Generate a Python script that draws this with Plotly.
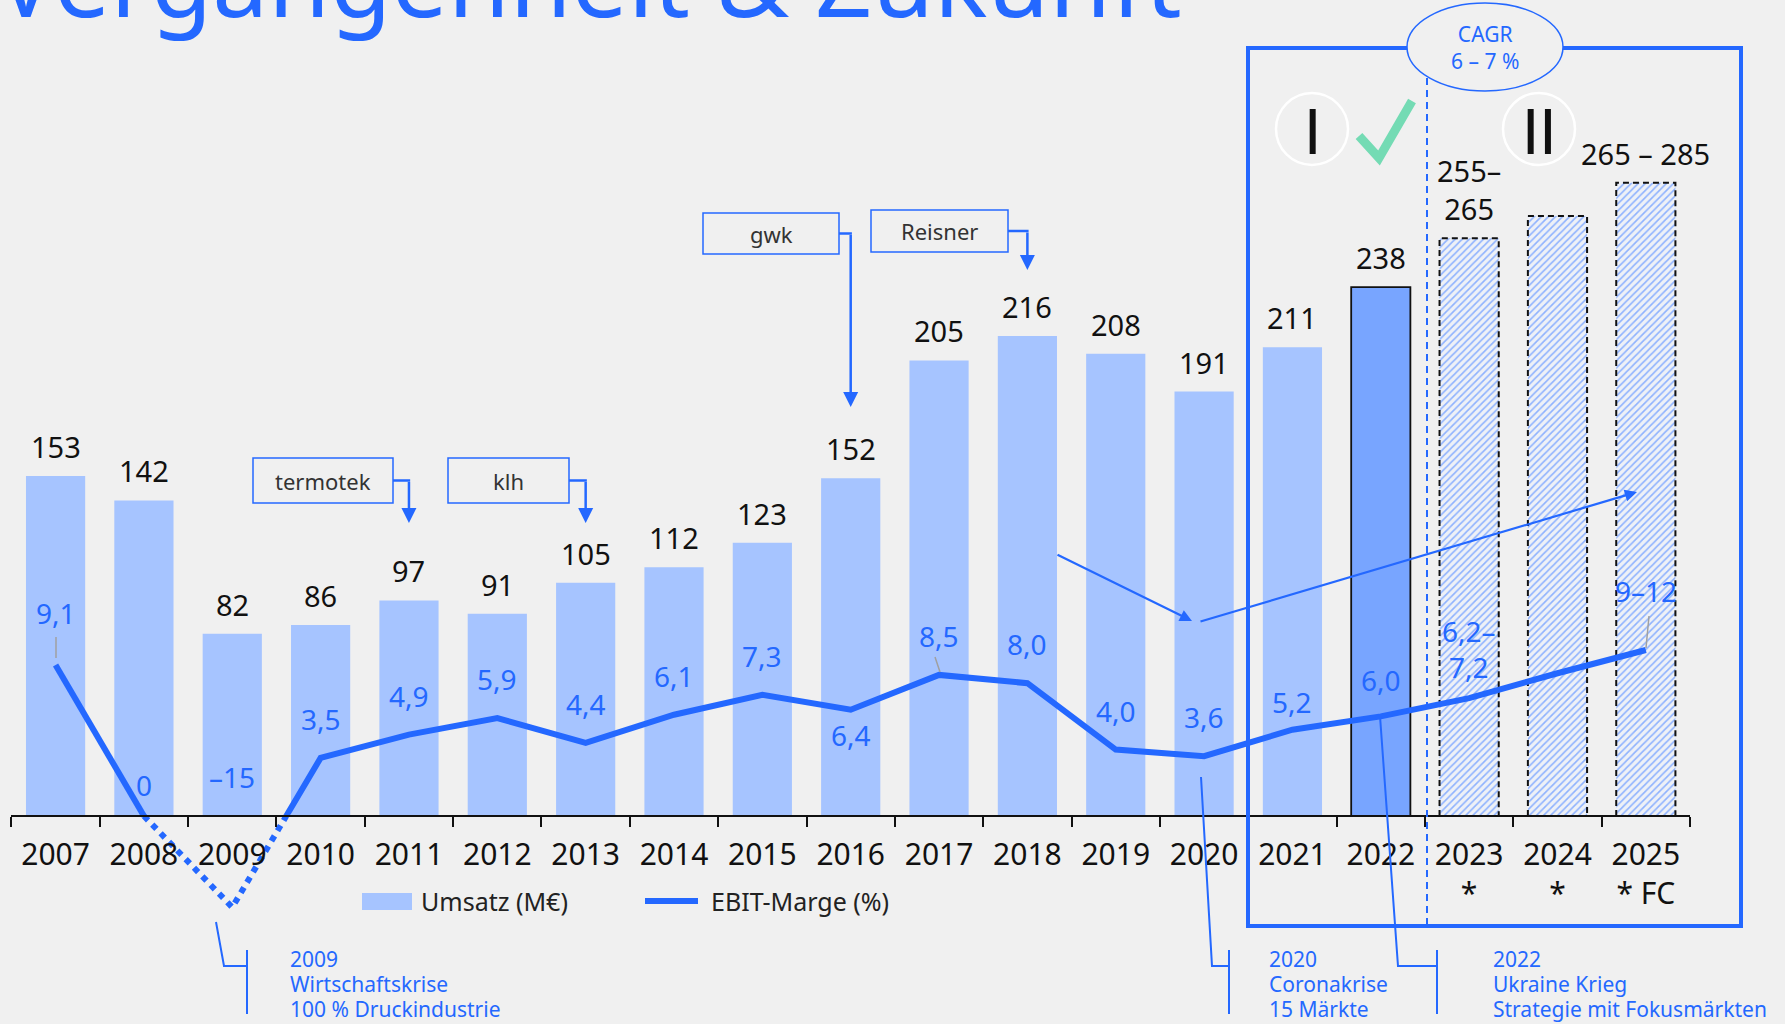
import plotly.graph_objects as go

W, H = 1785, 1024

# ---------------- data ----------------
years = [str(y) for y in range(2007, 2026)]
year_ticktext = years[:16] + ["2023<br>*", "2024<br>*", "2025<br>* FC"]
umsatz = [153, 142, 82, 86, 97, 91, 105, 112, 123, 152, 205, 216, 208, 191, 211, 238, 260, 270, 285]
umsatz_labels = ["153", "142", "82", "86", "97", "91", "105", "112", "123", "152", "205", "216",
                 "208", "191", "211", "238", "255–<br>265", "", "265 – 285"]
ebit = [9.1, 0.0, -15.0, 3.5, 4.9, 5.9, 4.4, 6.1, 7.3, 6.4, 8.5, 8.0, 4.0, 3.6, 5.2, 6.0, 7.1, 8.6, 10.0]
ebit_labels = ["9,1", "0", "–15", "3,5", "4,9", "5,9", "4,4", "6,1", "7,3", "6,4", "8,5", "8,0",
               "4,0", "3,6", "5,2", "6,0", "6,2–<br>7,2", "", "9–12"]
highlight_year = "2022"
forecast_years = ["2023", "2024", "2025"]
acquisitions = ["termotek", "klh", "gwk", "Reisner"]
acquisition_years = ["2011", "2013", "2016", "2018"]
event_texts = [["2009", "Wirtschaftskrise", "100 % Druckindustrie"],
               ["2020", "Coronakrise", "15 Märkte"],
               ["2022", "Ukraine Krieg", "Strategie mit Fokusmärkten"]]
title_text = "Vergangenheit & Zukunft"
cagr_text = "CAGR<br>6 – 7 %"
legend_names = ["Umsatz (M€)", "EBIT-Marge (%)"]

# ---------------- style ----------------
FONT = "Noto Sans"
BG = "#F0F0F0"
BLUE = "#2468FF"
BAR = "#A6C4FF"
BAR_HI = "#78A5FF"
HATCH_FG = "#8EB2FF"
HATCH_BG = "#EEF1F7"
GREEN = "#74DBB4"
BLACK = "#111111"

X0_PX, X1_PX = 11.4, 1690.0
BASE_PX = 816.0
Y_PPU = 2.222      # px per M€
Y2_PPU = 16.6      # px per %-point
EBIT_FLOOR = -5.5  # broken axis: negative margin drawn truncated
BARGAP = 0.33

n = len(years)
idx = list(range(n))
CATW = (X1_PX - X0_PX) / n


def px(x):
    return x / W


def py(y):
    return 1 - y / H


def cat_px(i):
    return X0_PX + (i + 0.5) * CATW


fig = go.Figure()

# actual bars
act = [i for i in idx if years[i] not in forecast_years]
fc = [i for i in idx if years[i] in forecast_years]
fig.add_trace(go.Bar(
    x=act, y=[umsatz[i] for i in act], name=legend_names[0], showlegend=False,
    marker=dict(color=[BAR_HI if years[i] == highlight_year else BAR for i in act],
                line=dict(color=BLACK, width=[1.8 if years[i] == highlight_year else 0 for i in act])),
    hoverinfo="skip",
))
# forecast bars (hatched)
fig.add_trace(go.Bar(
    x=fc, y=[umsatz[i] for i in fc], showlegend=False,
    marker=dict(color=HATCH_BG, line=dict(width=0),
                pattern=dict(shape="/", fgcolor=HATCH_FG, bgcolor=HATCH_BG, fillmode="replace",
                             size=5, solidity=0.32)),
    hoverinfo="skip",
))

# dashed outlines of forecast bars
hw = (1 - BARGAP) / 2
for i in fc:
    v = umsatz[i]
    fig.add_trace(go.Scatter(
        x=[i - hw, i - hw, i + hw, i + hw], y=[0, v, v, 0], mode="lines",
        line=dict(color=BLACK, width=2, dash="6px,4px"), showlegend=False, hoverinfo="skip"))

# EBIT line split into solid (>=0) and dotted (<0) parts
yd = [max(v, EBIT_FLOOR) for v in ebit]
sx, sy, dx, dy = [], [], [], []


def add(lx, ly, a, b):
    if lx and lx[-1] == a[0] and ly[-1] == a[1]:
        lx.append(b[0]); ly.append(b[1])
    else:
        if lx:
            lx.append(None); ly.append(None)
        lx.extend([a[0], b[0]]); ly.extend([a[1], b[1]])


for i in range(n - 1):
    p0, p1 = (idx[i], yd[i]), (idx[i + 1], yd[i + 1])
    if p0[1] >= 0 and p1[1] >= 0:
        add(sx, sy, p0, p1)
    elif p0[1] < 0 and p1[1] < 0:
        add(dx, dy, p0, p1)
    else:
        xc = p0[0] + (0 - p0[1]) * (p1[0] - p0[0]) / (p1[1] - p0[1])
        if p0[1] < 0:
            add(dx, dy, p0, (xc, 0)); add(sx, sy, (xc, 0), p1)
        else:
            if xc != p0[0]:
                add(sx, sy, p0, (xc, 0))
            add(dx, dy, (xc, 0), p1)

fig.add_trace(go.Scatter(x=dx, y=dy, yaxis="y2", mode="lines", showlegend=False, hoverinfo="skip",
                         line=dict(color=BLUE, width=6, dash="dot")))
fig.add_trace(go.Scatter(x=sx, y=sy, yaxis="y2", mode="lines", name=legend_names[1], showlegend=False,
                         hoverinfo="skip", line=dict(color=BLUE, width=6)))

ann = []
shapes = []


def pann(x, y, text, size, color, xanchor="center", yanchor="middle", family=FONT, **kw):
    d = dict(x=px(x), y=py(y), xref="paper", yref="paper", text=text, showarrow=False,
             xanchor=xanchor, yanchor=yanchor, font=dict(family=family, size=size, color=color))
    d.update(kw)
    ann.append(d)


# revenue labels
for i in idx:
    if umsatz_labels[i]:
        ann.append(dict(x=i, y=umsatz[i], xref="x", yref="y", text=umsatz_labels[i], showarrow=False,
                        xanchor="center", yanchor="bottom", yshift=8,
                        font=dict(family=FONT, size=29, color=BLACK)))

# EBIT labels
ebit_shift = {0: 52, 1: 31, 9: -25, 14: 28, 15: 36, 16: 49, 18: 59}
for i in idx:
    if ebit_labels[i]:
        ann.append(dict(x=i, y=max(ebit[i], 0), xref="x", yref="y2", text=ebit_labels[i], showarrow=False,
                        xanchor="center", yanchor="middle", yshift=ebit_shift.get(i, 39),
                        font=dict(family=FONT, size=28, color=BLUE)))

# small gray leader ticks
for (x0, y0, x1, y1) in [(56, 637, 56, 658), (935, 657, 940, 672), (1649, 616, 1646, 648)]:
    shapes.append(dict(type="line", xref="paper", yref="paper", x0=px(x0), y0=py(y0), x1=px(x1), y1=py(y1),
                       line=dict(color="#A0A0A0", width=1.5)))

# title (cut off at top)
pann(-6, 48, title_text, 100, BLUE, xanchor="left", yanchor="bottom")

# big forecast box
shapes.append(dict(type="rect", xref="paper", yref="paper", x0=px(1248), y0=py(48), x1=px(1741), y1=py(926),
                   line=dict(color=BLUE, width=4)))
# dashed divider
shapes.append(dict(type="line", xref="paper", yref="paper", x0=px(1427), y0=py(78), x1=px(1427), y1=py(926),
                   line=dict(color=BLUE, width=2, dash="7px,5px")))
# CAGR ellipse
shapes.append(dict(type="circle", xref="paper", yref="paper", x0=px(1407), y0=py(3), x1=px(1563), y1=py(91),
                   fillcolor=BG, line=dict(color=BLUE, width=1.5)))
pann(1485, 47, cagr_text, 21, BLUE)

# phase circles
for cx, label in [(1312, "I"), (1539, "II")]:
    shapes.append(dict(type="circle", xref="paper", yref="paper", x0=px(cx - 36), y0=py(93), x1=px(cx + 36),
                       y1=py(165), line=dict(color="white", width=2.5)))
    pann(cx, 130, label, 62, BLACK, family="Lato")
# check mark
shapes.append(dict(type="path", xref="paper", yref="paper",
                   path=f"M{px(1359)},{py(136)} L{px(1379)},{py(158)} L{px(1412)},{py(101)}",
                   line=dict(color=GREEN, width=9)))

# acquisition callouts
boxes = [(253, 458, 393, 503, 523), (448, 458, 569, 503, 523), (703, 213, 839, 254, 407),
         (871, 210, 1008, 252, 270)]
for name, yr, (bx0, by0, bx1, by1, tip) in zip(acquisitions, acquisition_years, boxes):
    shapes.append(dict(type="rect", xref="paper", yref="paper", x0=px(bx0), y0=py(by0), x1=px(bx1), y1=py(by1),
                       line=dict(color=BLUE, width=1.5)))
    pann((bx0 + bx1) / 2, (by0 + by1) / 2, name, 22, "#333333")
    ey = (by0 + by1) / 2
    tx = cat_px(years.index(yr))
    shapes.append(dict(type="line", xref="paper", yref="paper", x0=px(bx1), y0=py(ey), x1=px(tx + 1.2), y1=py(ey),
                       line=dict(color=BLUE, width=2.5)))
    ann.append(dict(x=px(tx), y=py(tip), xref="paper", yref="paper", text="", showarrow=True,
                    ax=0, ay=-(tip - ey), arrowhead=2, arrowsize=1.2, arrowwidth=2.5, arrowcolor=BLUE,
                    standoff=0))

# diagonal arrows
for (tx0, ty0, tx1, ty1) in [(1056, 554, 1192, 621), (1199, 622, 1637, 492)]:
    ann.append(dict(x=px(tx1), y=py(ty1), xref="paper", yref="paper", text="", showarrow=True,
                    ax=tx0 - tx1, ay=ty0 - ty1, arrowhead=2, arrowsize=1.1, arrowwidth=2.2,
                    arrowcolor=BLUE, standoff=0))

# event callouts at the bottom
events_geo = [
    ([(216, 922), (224, 966), (247, 966)], 247, 288),
    ([(1201, 777), (1212, 966), (1229, 966)], 1229, 1267),
    ([(1380, 716), (1398, 966), (1437, 966)], 1437, 1491),
]
for lines, (pts, bx, tx) in zip(event_texts, events_geo):
    path = "M" + " L".join(f"{px(a)},{py(b)}" for a, b in pts)
    shapes.append(dict(type="path", xref="paper", yref="paper", path=path, line=dict(color=BLUE, width=2)))
    shapes.append(dict(type="line", xref="paper", yref="paper", x0=px(bx), y0=py(950), x1=px(bx), y1=py(1014),
                       line=dict(color=BLUE, width=2)))
    for k, t in enumerate(lines):
        pann(tx, 959 + 25 * k, t, 21, BLUE, xanchor="left")

# manual legend
shapes.append(dict(type="rect", xref="paper", yref="paper", x0=px(362), y0=py(893), x1=px(412), y1=py(910),
                   fillcolor=BAR, line=dict(width=0)))
pann(419, 901, legend_names[0], 25, "#222222", xanchor="left")
shapes.append(dict(type="line", xref="paper", yref="paper", x0=px(645), y0=py(901), x1=px(698), y1=py(901),
                   line=dict(color=BLUE, width=6)))
pann(709, 901, legend_names[1], 25, "#222222", xanchor="left")

fig.update_layout(
    width=W, height=H, margin=dict(l=0, r=0, t=0, b=0),
    paper_bgcolor=BG, plot_bgcolor="rgba(0,0,0,0)",
    bargap=BARGAP, barmode="overlay", showlegend=False,
    font=dict(family=FONT, color=BLACK),
    xaxis=dict(domain=[px(X0_PX), px(X1_PX)], range=[-0.5, n - 0.5], anchor="free", position=py(BASE_PX),
               tickmode="array", tickvals=idx, ticktext=year_ticktext, ticks="", ticklabelstandoff=12,
               tickfont=dict(family=FONT, size=30, color=BLACK),
               showline=True, linecolor=BLACK, linewidth=2, showgrid=False, zeroline=False,
               minor=dict(tickmode="array", tickvals=[i - 0.5 for i in range(n + 1)], ticks="outside",
                          ticklen=10, tickwidth=2, tickcolor=BLACK, showgrid=False)),
    yaxis=dict(domain=[0, 1], range=[-(H - BASE_PX) / Y_PPU, BASE_PX / Y_PPU], visible=False),
    yaxis2=dict(domain=[0, 1], range=[-(H - BASE_PX) / Y2_PPU, BASE_PX / Y2_PPU], overlaying="y",
                visible=False),
    annotations=ann, shapes=shapes,
)

fig.write_html("out.html", config={"displayModeBar": False},
               post_script="document.body.style.margin='0px';document.body.style.overflow='hidden';"
                           "document.body.style.background='" + BG + "';")
